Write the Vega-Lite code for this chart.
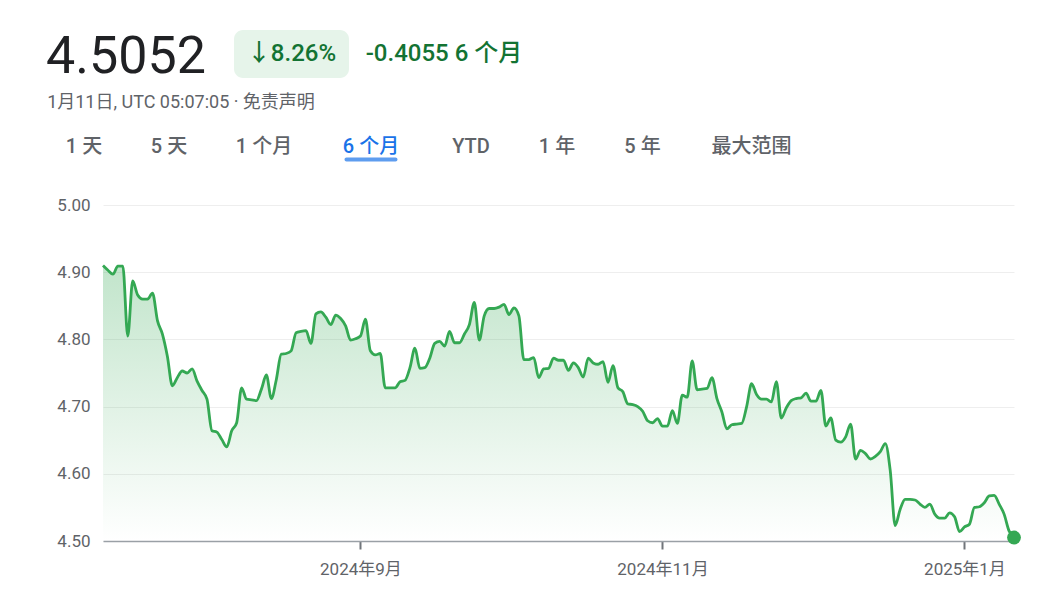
{
  "$schema": "https://vega.github.io/schema/vega-lite/v6.json",
  "background": "white",
  "padding": {"left": 42, "top": 30, "right": 20, "bottom": 8},
  "config": {
    "view": {"stroke": null},
    "font": "Roboto, 'Noto Sans CJK SC', sans-serif"
  },
  "datasets": {
    "header": [
      {"k": "price", "t": "4.5052"},
      {"k": "pct", "t": "↓8.26%"},
      {"k": "chg", "t": "-0.4055 6 个月"},
      {"k": "sub", "t": "1月11日, UTC 05:07:05 · 免责声明"}
    ],
    "tabs": [
      {"t": "1 天"}, {"t": "5 天"}, {"t": "1 个月"}, {"t": "6 个月"},
      {"t": "YTD"}, {"t": "1 年"}, {"t": "5 年"}, {"t": "最大范围"}
    ],
    "rate": [
      {"d": "2024-07-11", "v": 4.910}, {"d": "2024-07-12", "v": 4.903}, {"d": "2024-07-13", "v": 4.897},
      {"d": "2024-07-14", "v": 4.909}, {"d": "2024-07-15", "v": 4.909}, {"d": "2024-07-16", "v": 4.805},
      {"d": "2024-07-17", "v": 4.887}, {"d": "2024-07-18", "v": 4.866}, {"d": "2024-07-19", "v": 4.860},
      {"d": "2024-07-20", "v": 4.860}, {"d": "2024-07-21", "v": 4.869}, {"d": "2024-07-22", "v": 4.828},
      {"d": "2024-07-23", "v": 4.808}, {"d": "2024-07-24", "v": 4.775}, {"d": "2024-07-25", "v": 4.731},
      {"d": "2024-07-26", "v": 4.743}, {"d": "2024-07-27", "v": 4.753}, {"d": "2024-07-28", "v": 4.750},
      {"d": "2024-07-29", "v": 4.756}, {"d": "2024-07-30", "v": 4.738}, {"d": "2024-07-31", "v": 4.724},
      {"d": "2024-08-01", "v": 4.711}, {"d": "2024-08-02", "v": 4.664}, {"d": "2024-08-03", "v": 4.662},
      {"d": "2024-08-04", "v": 4.651}, {"d": "2024-08-05", "v": 4.640}, {"d": "2024-08-06", "v": 4.664},
      {"d": "2024-08-07", "v": 4.676}, {"d": "2024-08-08", "v": 4.728}, {"d": "2024-08-09", "v": 4.711},
      {"d": "2024-08-10", "v": 4.710}, {"d": "2024-08-11", "v": 4.709}, {"d": "2024-08-12", "v": 4.726},
      {"d": "2024-08-13", "v": 4.747}, {"d": "2024-08-14", "v": 4.712}, {"d": "2024-08-15", "v": 4.740},
      {"d": "2024-08-16", "v": 4.778}, {"d": "2024-08-17", "v": 4.779}, {"d": "2024-08-18", "v": 4.783},
      {"d": "2024-08-19", "v": 4.810}, {"d": "2024-08-20", "v": 4.812}, {"d": "2024-08-21", "v": 4.813},
      {"d": "2024-08-22", "v": 4.794}, {"d": "2024-08-23", "v": 4.838}, {"d": "2024-08-24", "v": 4.841},
      {"d": "2024-08-25", "v": 4.833}, {"d": "2024-08-26", "v": 4.822}, {"d": "2024-08-27", "v": 4.836},
      {"d": "2024-08-28", "v": 4.831}, {"d": "2024-08-29", "v": 4.820}, {"d": "2024-08-30", "v": 4.799},
      {"d": "2024-08-31", "v": 4.801}, {"d": "2024-09-01", "v": 4.805}, {"d": "2024-09-02", "v": 4.830},
      {"d": "2024-09-03", "v": 4.783}, {"d": "2024-09-04", "v": 4.777}, {"d": "2024-09-05", "v": 4.779},
      {"d": "2024-09-06", "v": 4.728}, {"d": "2024-09-07", "v": 4.728}, {"d": "2024-09-08", "v": 4.728},
      {"d": "2024-09-09", "v": 4.737}, {"d": "2024-09-10", "v": 4.739}, {"d": "2024-09-11", "v": 4.758},
      {"d": "2024-09-12", "v": 4.787}, {"d": "2024-09-13", "v": 4.757}, {"d": "2024-09-14", "v": 4.758},
      {"d": "2024-09-15", "v": 4.772}, {"d": "2024-09-16", "v": 4.794}, {"d": "2024-09-17", "v": 4.797},
      {"d": "2024-09-18", "v": 4.790}, {"d": "2024-09-19", "v": 4.812}, {"d": "2024-09-20", "v": 4.795},
      {"d": "2024-09-21", "v": 4.795}, {"d": "2024-09-22", "v": 4.808}, {"d": "2024-09-23", "v": 4.822},
      {"d": "2024-09-24", "v": 4.855}, {"d": "2024-09-25", "v": 4.799}, {"d": "2024-09-26", "v": 4.835},
      {"d": "2024-09-27", "v": 4.846}, {"d": "2024-09-28", "v": 4.846}, {"d": "2024-09-29", "v": 4.848},
      {"d": "2024-09-30", "v": 4.852}, {"d": "2024-10-01", "v": 4.837}, {"d": "2024-10-02", "v": 4.847},
      {"d": "2024-10-03", "v": 4.835}, {"d": "2024-10-04", "v": 4.770}, {"d": "2024-10-05", "v": 4.770},
      {"d": "2024-10-06", "v": 4.773}, {"d": "2024-10-07", "v": 4.743}, {"d": "2024-10-08", "v": 4.756},
      {"d": "2024-10-09", "v": 4.757}, {"d": "2024-10-10", "v": 4.772}, {"d": "2024-10-11", "v": 4.769},
      {"d": "2024-10-12", "v": 4.769}, {"d": "2024-10-13", "v": 4.754}, {"d": "2024-10-14", "v": 4.765},
      {"d": "2024-10-15", "v": 4.758}, {"d": "2024-10-16", "v": 4.744}, {"d": "2024-10-17", "v": 4.772},
      {"d": "2024-10-18", "v": 4.765}, {"d": "2024-10-19", "v": 4.763}, {"d": "2024-10-20", "v": 4.767},
      {"d": "2024-10-21", "v": 4.736}, {"d": "2024-10-22", "v": 4.761}, {"d": "2024-10-23", "v": 4.728},
      {"d": "2024-10-24", "v": 4.722}, {"d": "2024-10-25", "v": 4.704}, {"d": "2024-10-26", "v": 4.703},
      {"d": "2024-10-27", "v": 4.700}, {"d": "2024-10-28", "v": 4.693}, {"d": "2024-10-29", "v": 4.679},
      {"d": "2024-10-30", "v": 4.676}, {"d": "2024-10-31", "v": 4.682}, {"d": "2024-11-01", "v": 4.671},
      {"d": "2024-11-02", "v": 4.671}, {"d": "2024-11-03", "v": 4.694}, {"d": "2024-11-04", "v": 4.675},
      {"d": "2024-11-05", "v": 4.717}, {"d": "2024-11-06", "v": 4.714}, {"d": "2024-11-07", "v": 4.768},
      {"d": "2024-11-08", "v": 4.725}, {"d": "2024-11-09", "v": 4.726}, {"d": "2024-11-10", "v": 4.727},
      {"d": "2024-11-11", "v": 4.743}, {"d": "2024-11-12", "v": 4.712}, {"d": "2024-11-13", "v": 4.692},
      {"d": "2024-11-14", "v": 4.667}, {"d": "2024-11-15", "v": 4.673}, {"d": "2024-11-16", "v": 4.674},
      {"d": "2024-11-17", "v": 4.675}, {"d": "2024-11-18", "v": 4.700}, {"d": "2024-11-19", "v": 4.734},
      {"d": "2024-11-20", "v": 4.718}, {"d": "2024-11-21", "v": 4.711}, {"d": "2024-11-22", "v": 4.711},
      {"d": "2024-11-23", "v": 4.707}, {"d": "2024-11-24", "v": 4.737}, {"d": "2024-11-25", "v": 4.683},
      {"d": "2024-11-26", "v": 4.698}, {"d": "2024-11-27", "v": 4.709}, {"d": "2024-11-28", "v": 4.712},
      {"d": "2024-11-29", "v": 4.713}, {"d": "2024-11-30", "v": 4.720}, {"d": "2024-12-01", "v": 4.708},
      {"d": "2024-12-02", "v": 4.708}, {"d": "2024-12-03", "v": 4.724}, {"d": "2024-12-04", "v": 4.671},
      {"d": "2024-12-05", "v": 4.683}, {"d": "2024-12-06", "v": 4.650}, {"d": "2024-12-07", "v": 4.647},
      {"d": "2024-12-08", "v": 4.655}, {"d": "2024-12-09", "v": 4.674}, {"d": "2024-12-10", "v": 4.622},
      {"d": "2024-12-11", "v": 4.635}, {"d": "2024-12-12", "v": 4.630}, {"d": "2024-12-13", "v": 4.622},
      {"d": "2024-12-14", "v": 4.626}, {"d": "2024-12-15", "v": 4.633}, {"d": "2024-12-16", "v": 4.645},
      {"d": "2024-12-17", "v": 4.605}, {"d": "2024-12-18", "v": 4.523}, {"d": "2024-12-19", "v": 4.547},
      {"d": "2024-12-20", "v": 4.562}, {"d": "2024-12-21", "v": 4.562}, {"d": "2024-12-22", "v": 4.561},
      {"d": "2024-12-23", "v": 4.555}, {"d": "2024-12-24", "v": 4.550}, {"d": "2024-12-25", "v": 4.555},
      {"d": "2024-12-26", "v": 4.540}, {"d": "2024-12-27", "v": 4.534}, {"d": "2024-12-28", "v": 4.534},
      {"d": "2024-12-29", "v": 4.542}, {"d": "2024-12-30", "v": 4.536}, {"d": "2024-12-31", "v": 4.514},
      {"d": "2025-01-01", "v": 4.521}, {"d": "2025-01-02", "v": 4.525}, {"d": "2025-01-03", "v": 4.550},
      {"d": "2025-01-04", "v": 4.551}, {"d": "2025-01-05", "v": 4.557}, {"d": "2025-01-06", "v": 4.567},
      {"d": "2025-01-07", "v": 4.568}, {"d": "2025-01-08", "v": 4.555}, {"d": "2025-01-09", "v": 4.540},
      {"d": "2025-01-10", "v": 4.515}, {"d": "2025-01-11", "v": 4.5052}
    ]
  },
  "bounds": "full",
  "spacing": 24,
  "vconcat": [
    {
      "bounds": "full",
      "spacing": 0,
      "vconcat": [
        {
          "bounds": "full",
          "spacing": 24,
          "hconcat": [
            {
              "width": 168, "height": 54,
              "data": {"name": "header"},
              "transform": [{"filter": "datum.k === 'price'"}],
              "mark": {"type": "text", "fontSize": 52, "color": "#202124", "fontWeight": 400},
              "encoding": {"text": {"field": "t"}}
            },
            {
              "bounds": "full",
              "spacing": 14,
              "hconcat": [
                {
                  "width": 115, "height": 48,
                  "data": {"name": "header"},
                  "transform": [{"filter": "datum.k === 'pct'"}],
                  "layer": [
                    {"mark": {"type": "rect", "color": "#e6f4ea", "cornerRadius": 9}},
                    {
                      "mark": {"type": "text", "fontSize": 24, "fontWeight": 500, "color": "#137333"},
                      "encoding": {"text": {"field": "t"}}
                    }
                  ]
                },
                {
                  "width": 162, "height": 48,
                  "data": {"name": "header"},
                  "transform": [{"filter": "datum.k === 'chg'"}],
                  "mark": {"type": "text", "fontSize": 24, "fontWeight": 500, "color": "#137333"},
                  "encoding": {"text": {"field": "t"}}
                }
              ]
            }
          ]
        },
        {
          "width": 278, "height": 37,
          "data": {"name": "header"},
          "transform": [{"filter": "datum.k === 'sub'"}],
          "mark": {"type": "text", "fontSize": 18, "color": "#5f6368"},
          "encoding": {"text": {"field": "t"}}
        },
        {
          "bounds": "full",
          "spacing": 0,
          "hconcat": [
            {
              "width": 84, "height": 51, "data": {"name": "tabs"},
              "transform": [{"filter": "datum.t === '1 天'"}],
              "mark": {"type": "text", "fontSize": 20, "fontWeight": 500, "color": "#5f6368"},
              "encoding": {"text": {"field": "t"}}
            },
            {
              "width": 86, "height": 51, "data": {"name": "tabs"},
              "transform": [{"filter": "datum.t === '5 天'"}],
              "mark": {"type": "text", "fontSize": 20, "fontWeight": 500, "color": "#5f6368"},
              "encoding": {"text": {"field": "t"}}
            },
            {
              "width": 104, "height": 51, "data": {"name": "tabs"},
              "transform": [{"filter": "datum.t === '1 个月'"}],
              "mark": {"type": "text", "fontSize": 20, "fontWeight": 500, "color": "#5f6368"},
              "encoding": {"text": {"field": "t"}}
            },
            {
              "width": 110, "height": 51, "data": {"name": "tabs"},
              "transform": [{"filter": "datum.t === '6 个月'"}],
              "layer": [
                {
                  "mark": {"type": "text", "fontSize": 20, "fontWeight": 500, "color": "#1a73e8"},
                  "encoding": {"text": {"field": "t"}}
                },
                {
                  "mark": {"type": "tick", "orient": "horizontal", "size": 53, "thickness": 4, "cornerRadius": 2, "color": "#1a73e8", "yOffset": 13},
                  "encoding": {}
                }
              ]
            },
            {
              "width": 90, "height": 51, "data": {"name": "tabs"},
              "transform": [{"filter": "datum.t === 'YTD'"}],
              "mark": {"type": "text", "fontSize": 20, "fontWeight": 500, "color": "#5f6368"},
              "encoding": {"text": {"field": "t"}}
            },
            {
              "width": 82, "height": 51, "data": {"name": "tabs"},
              "transform": [{"filter": "datum.t === '1 年'"}],
              "mark": {"type": "text", "fontSize": 20, "fontWeight": 500, "color": "#5f6368"},
              "encoding": {"text": {"field": "t"}}
            },
            {
              "width": 89, "height": 51, "data": {"name": "tabs"},
              "transform": [{"filter": "datum.t === '5 年'"}],
              "mark": {"type": "text", "fontSize": 20, "fontWeight": 500, "color": "#5f6368"},
              "encoding": {"text": {"field": "t"}}
            },
            {
              "width": 129, "height": 51, "data": {"name": "tabs"},
              "transform": [{"filter": "datum.t === '最大范围'"}],
              "mark": {"type": "text", "fontSize": 20, "fontWeight": 500, "color": "#5f6368"},
              "encoding": {"text": {"field": "t"}}
            }
          ]
        }
      ]
    },
    {
      "bounds": "flush",
      "spacing": 0,
      "hconcat": [
        {
          "width": 61, "height": 10,
          "data": {"name": "tabs"},
          "transform": [{"filter": "false"}],
          "mark": {"type": "text"},
          "encoding": {"text": {"field": "t"}}
        },
        {
          "width": 911,
          "height": 336,
          "data": {"name": "rate"},
          "encoding": {
            "x": {
              "field": "d", "type": "temporal",
              "scale": {
                "type": "utc",
                "domain": [
                  {"year": 2024, "month": 7, "date": 11, "utc": true},
                  {"year": 2025, "month": 1, "date": 11, "utc": true}
                ]
              },
              "axis": {
                "title": null,
                "grid": false,
                "values": [
                  {"year": 2024, "month": 9, "date": 1, "utc": true},
                  {"year": 2024, "month": 11, "date": 1, "utc": true},
                  {"year": 2025, "month": 1, "date": 1, "utc": true}
                ],
                "labelExpr": "utcFormat(datum.value, '%Y') + '年' + (utcmonth(datum.value) + 1) + '月'",
                "domainColor": "#9aa0a6",
                "domainWidth": 1.5,
                "tickColor": "#70757a",
                "tickWidth": 2,
                "tickSize": 8,
                "labelPadding": 12,
                "labelFontSize": 17,
                "labelColor": "#5f6368",
                "labelFlush": false
              }
            },
            "y": {
              "field": "v", "type": "quantitative",
              "scale": {"domain": [4.5, 5.0], "zero": false, "nice": false},
              "axis": {
                "title": null,
                "values": [4.5, 4.6, 4.7, 4.8, 4.9, 5.0],
                "format": ".2f",
                "domain": false,
                "ticks": false,
                "tickSize": 0,
                "labelPadding": 13,
                "gridColor": "#eeeeee",
                "gridWidth": 1,
                "labelFontSize": 17,
                "labelColor": "#5f6368"
              }
            }
          },
          "layer": [
            {
              "mark": {
                "type": "area",
                "interpolate": "monotone",
                "color": {
                  "gradient": "linear",
                  "x1": 0, "y1": 0, "x2": 0, "y2": 1,
                  "stops": [
                    {"offset": 0, "color": "rgba(52,168,83,0.3)"},
                    {"offset": 1, "color": "rgba(52,168,83,0)"}
                  ]
                }
              },
              "encoding": {"y2": {"datum": 4.5}}
            },
            {
              "mark": {"type": "line", "interpolate": "monotone", "color": "#34a853", "strokeWidth": 2.8}
            },
            {
              "transform": [{"filter": {"field": "d", "equal": {"year": 2025, "month": 1, "date": 11, "utc": true}}}],
              "mark": {"type": "point", "filled": true, "opacity": 1, "size": 190, "color": "#34a853"}
            }
          ]
        }
      ]
    }
  ]
}
